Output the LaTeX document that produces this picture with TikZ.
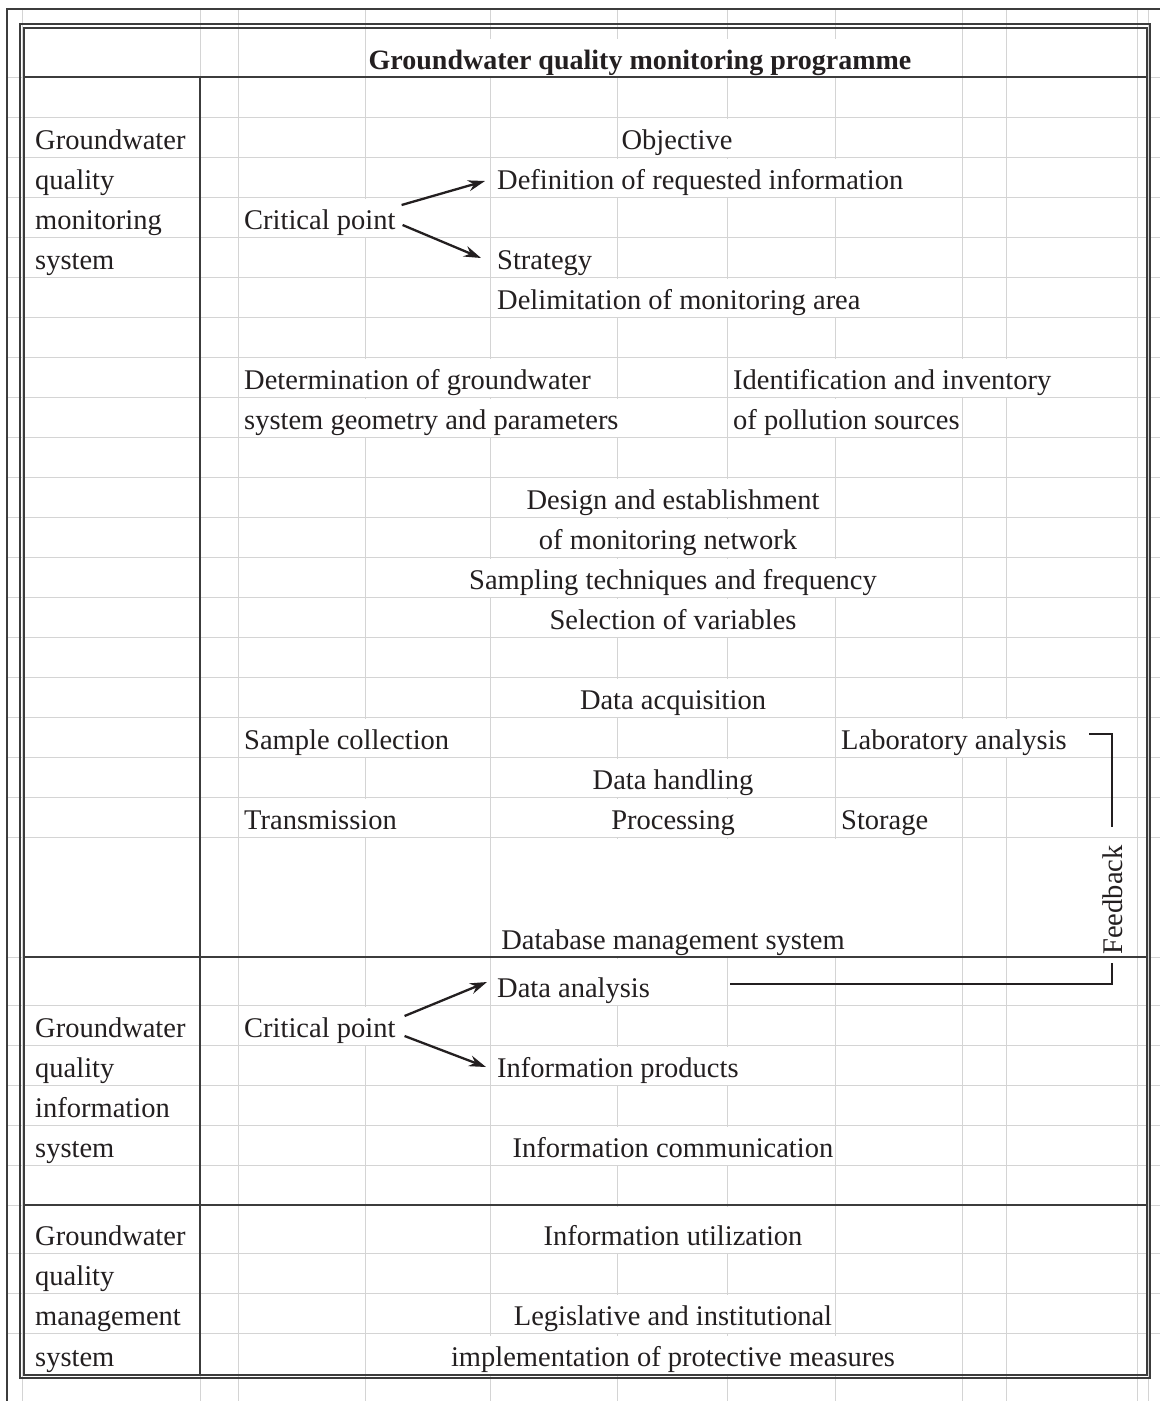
\documentclass[tikz,border=0pt]{standalone}
\usepackage{fontspec}
\setmainfont{Liberation Serif}
\usetikzlibrary{arrows.meta,calc}
\definecolor{gridgray}{RGB}{212,212,212}
\definecolor{ink}{RGB}{35,31,32}
\definecolor{rule}{RGB}{60,60,60}
\newcommand{\fz}{\fontsize{28.5}{32}\selectfont}
\newcommand{\fzt}{\fontsize{28}{32}\selectfont\bfseries}
\begin{document}
\begin{tikzpicture}[x=1pt,y=-1pt,
  gridl/.style={draw=gridgray,line width=1pt},
  rulel/.style={draw=rule,line width=1.2pt},
  txt/.style={font=\fz,text=ink,fill=white,inner xsep=2pt,inner ysep=0pt,text height=30pt,text depth=8pt,anchor=base west},
  ctxt/.style={txt,anchor=base},
  tallrow/.style={text height=38pt},
  dbrow/.style={text height=110pt},
  arr/.style={draw=ink,line width=2.3pt,-{Stealth[length=17pt,width=11pt]}},
  fbl/.style={draw=ink,line width=1.7pt}]
\useasboundingbox (0,0) rectangle (1160,1401);
\fill[white] (0,0) rectangle (1160,1401);
% spreadsheet grid
\foreach \x in {22,200,238,365,490,617,727,835,962,1006,1137,1148}
  \draw[gridl] (\x,9) -- (\x,1401);
\foreach \y in {77,117,...,837,957,1005,1045,1085,1125,1165,1205,1253,1293,1333}
  \draw[gridl] (7,\y) -- (1160,\y);
% title
\node[ctxt,font=\fzt] (title) at (640,69) {Groundwater quality monitoring programme};
% left column
\node[txt] (m1) at (33,149) {Groundwater};
\node[txt] (m2) at (33,189) {quality};
\node[txt] (m3) at (33,229) {monitoring};
\node[txt] (m4) at (33,269) {system};
\node[txt] (i1) at (33,1037) {Groundwater};
\node[txt] (i2) at (33,1077) {quality};
\node[txt] (i3) at (33,1117) {information};
\node[txt] (i4) at (33,1157) {system};
\node[txt,tallrow] (g1) at (33,1245) {Groundwater};
\node[txt] (g2) at (33,1285) {quality};
\node[txt] (g3) at (33,1325) {management};
\node[txt] (g4) at (33,1366) {system};
% monitoring system
\node[ctxt] (obj) at (677,149) {Objective};
\node[txt] (def) at (495,189) {Definition of requested information};
\node[txt] (cp1) at (242,229) {Critical point};
\node[txt] (strat) at (495,269) {Strategy};
\node[txt] (delim) at (495,309) {Delimitation of monitoring area};
\node[txt] (det1) at (242,389) {Determination of groundwater};
\node[txt] (det2) at (242,429) {system geometry and parameters};
\node[txt] (ide1) at (731,389) {Identification and inventory};
\node[txt] (ide2) at (731,429) {of pollution sources};
\node[ctxt] (des1) at (673,509) {Design and establishment};
\node[ctxt] (des2) at (668,549) {of monitoring network};
\node[ctxt] (samp) at (673,589) {Sampling techniques and frequency};
\node[ctxt] (sel) at (673,629) {Selection of variables};
\node[ctxt] (acq) at (673,709) {Data acquisition};
\node[txt] (coll) at (242,749) {Sample collection};
\node[txt] (lab) at (839,749) {Laboratory analysis};
\node[ctxt] (hand) at (673,789) {Data handling};
\node[txt] (trans) at (242,829) {Transmission};
\node[ctxt] (proc) at (673,829) {Processing};
\node[txt] (stor) at (839,829) {Storage};
\node[ctxt,dbrow] (db) at (673,949) {Database management system};
% information system
\node[txt,tallrow] (dan) at (495,997) {Data analysis};
\node[txt] (cp2) at (242,1037) {Critical point};
\node[txt] (iprod) at (495,1077) {Information products};
\node[ctxt] (icom) at (673,1157) {Information communication};
% management system
\node[ctxt,tallrow] (iutil) at (673,1245) {Information utilization};
\node[ctxt] (leg) at (673,1325) {Legislative and institutional};
\node[ctxt] (impl) at (673,1366) {implementation of protective measures};
% feedback
\node[font=\fz,text=ink,inner sep=0pt,rotate=90,anchor=base] (fb) at (1122,900) {Feedback};
\coordinate (fbA) at (1089,734);
\coordinate (fbB) at (1112,827);
\coordinate (fbC) at (1112,963);
\coordinate (fbD) at (730,984);
\draw[fbl] (fbA) -| (fbB);
\draw[fbl] (fbC) |- (fbD);
% arrows
\draw[arr] ($(cp1.east)+(4,-13)$) -- ($(def.west)+(-10,3)$);
\draw[arr] ($(cp1.east)+(5,7)$) -- ($(strat.west)+(-14,0)$);
\draw[arr] ($(cp2.east)+(7,-10)$) -- ($(dan.west)+(-8,0)$);
\draw[arr] ($(cp2.east)+(7,10)$) -- ($(iprod.west)+(-9,1)$);
% rules
\draw[rulel] (24,77) -- (1147,77);
\draw[rulel] (200,77) -- (200,1375);
\draw[rulel] (24,957) -- (1147,957);
\draw[rulel] (24,1205) -- (1147,1205);
\draw[rulel] (20,24) rectangle (1150,1378);
\draw[rulel] (24,28) rectangle (1147,1375);
\draw[rulel] (7,1401) -- (7,9) -- (1160,9);
\end{tikzpicture}
\end{document}
